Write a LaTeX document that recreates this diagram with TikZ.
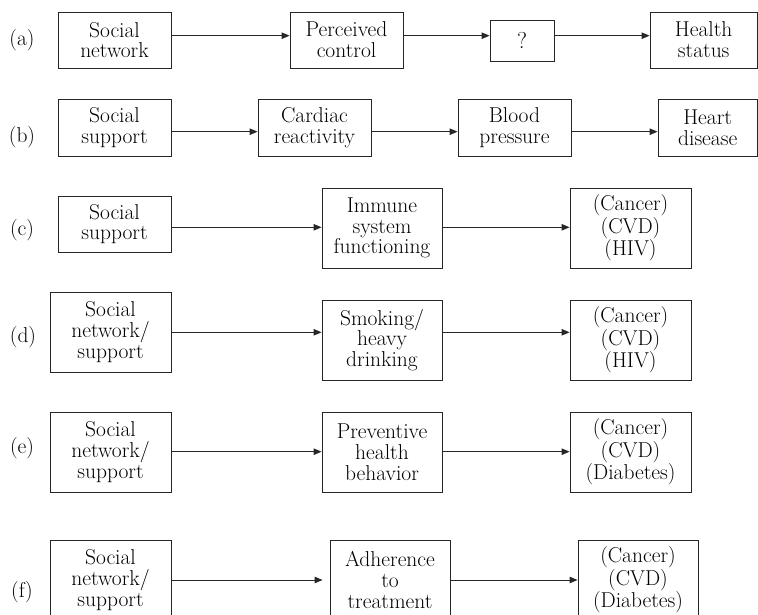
\documentclass[tikz,border=0pt]{standalone}
\usetikzlibrary{arrows.meta}
\begin{document}
\begin{tikzpicture}[x=1pt,y=-1pt,
  txt/.style={font=\fontsize{21.5}{20.8}\selectfont},
  blk/.style={draw=black!85, line width=0.9pt, align=center, inner sep=0pt,
    txt},
  lbl/.style={txt, inner sep=0pt},
  arr/.style={draw=black!85, line width=0.9pt,
    -{Triangle[length=8pt,width=6.5pt]}}]
\useasboundingbox (0,0) rectangle (758,615);

% box given by left, top, right, bottom
\newcommand\blkbox[6]{%
  \node[blk, minimum width={#4-#2}, minimum height={#5-#3}]
    (#1) at ({(#2+#4)/2},{(#3+#5)/2}) {#6};}

% (a)
\node[lbl] (la) at (22,40) {(a)};
\blkbox{a1}{58}{12}{171}{68}{Social\\network}
\blkbox{a2}{290}{12}{403}{68}{Perceived\\control}
\node[blk, minimum width=64, minimum height=41, font=\fontsize{23}{24}\selectfont]
  (a3) at (522,40.5) {?};
\blkbox{a4}{650}{12}{757.4}{68}{Health\\status}
\coordinate (ya) at (0,35.7);
\draw[arr] (a1.east |- ya) -- (a2.west |- ya);
\draw[arr] (a2.east |- ya) -- (a3.west |- ya);
\draw[arr] (a3.east |- ya) -- (a4.west |- ya);

% (b)
\node[lbl] (lb) at (22,137) {(b)};
\blkbox{b1}{58}{99}{171}{156}{Social\\support}
\blkbox{b2}{258}{99}{371}{156}{Cardiac\\reactivity}
\blkbox{b3}{458}{99}{571}{156}{Blood\\pressure}
\blkbox{b4}{658}{99}{757.4}{156}{Heart\\disease}
\coordinate (yb) at (0,131.7);
\draw[arr] (b1.east |- yb) -- (b2.west |- yb);
\draw[arr] (b2.east |- yb) -- (b3.west |- yb);
\draw[arr] (b3.east |- yb) -- (b4.west |- yb);

% (c)
\node[lbl] (lc) at (22,230) {(c)};
\blkbox{c1}{58}{196}{171}{252}{Social\\support}
\blkbox{c2}{322}{188}{442}{268}{Immune\\system\\functioning}
\blkbox{c3}{570}{188}{691}{268}{(Cancer)\\(CVD)\\(HIV)}
\coordinate (yc) at (0,227.3);
\draw[arr] (c1.east |- yc) -- (c2.west |- yc);
\draw[arr] (c2.east |- yc) -- (c3.west |- yc);

% (d)
\node[lbl] (ld) at (23,337) {(d)};
\blkbox{d1}{50}{292}{171}{372}{Social\\network/\\support}
\blkbox{d2}{322}{300}{442}{380}{Smoking/\\heavy\\drinking}
\blkbox{d3}{570}{300}{691}{380}{(Cancer)\\(CVD)\\(HIV)}
\coordinate (yd) at (0,332.3);
\draw[arr] (d1.east |- yd) -- (d2.west |- yd);
\draw[arr] (d2.east |- yd) -- (d3.west |- yd);

% (e)
\node[lbl] (le) at (22,448) {(e)};
\blkbox{e1}{50}{412}{171}{492}{Social\\network/\\support}
\blkbox{e2}{322}{412}{442}{492}{Preventive\\health\\behavior}
\blkbox{e3}{570}{412}{691}{492}{(Cancer)\\(CVD)\\(Diabetes)}
\coordinate (ye) at (0,451.7);
\draw[arr] (e1.east |- ye) -- (e2.west |- ye);
\draw[arr] (e2.east |- ye) -- (e3.west |- ye);

% (f)
\node[lbl] (lf) at (22,592) {(f)};
\blkbox{f1}{50}{540}{171}{620}{Social\\network/\\support}
\blkbox{f2}{330}{540}{450}{620}{Adherence\\to\\treatment}
\blkbox{f3}{578}{540}{698}{620}{(Cancer)\\(CVD)\\(Diabetes)}
\coordinate (yf) at (0,580);
\draw[arr, shorten >=7pt] (f1.east |- yf) -- (f2.west |- yf);
\draw[arr] (f2.east |- yf) -- (f3.west |- yf);
\end{tikzpicture}
\end{document}
